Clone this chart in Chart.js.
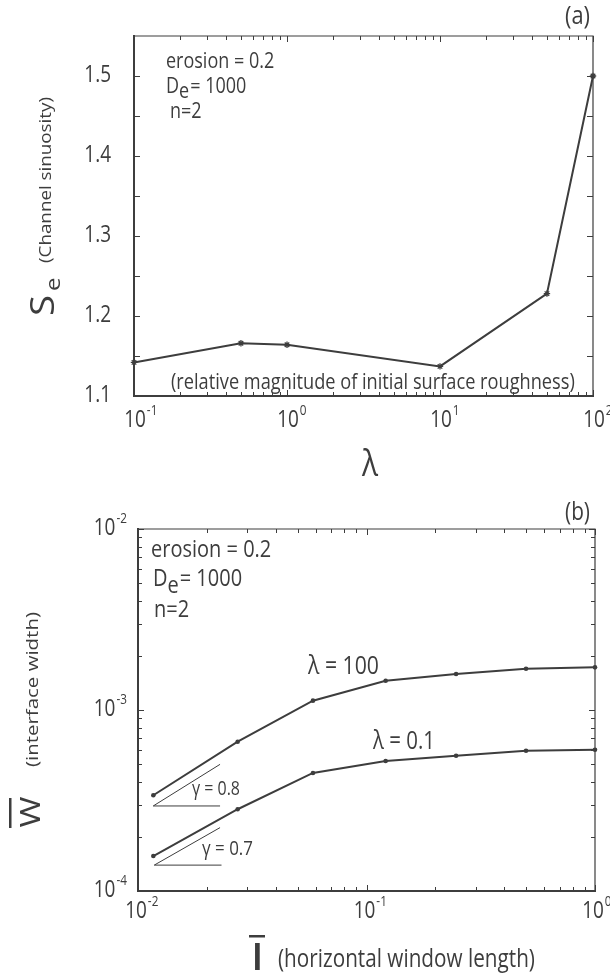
<!DOCTYPE html>
<html><head><meta charset="utf-8">
<script src="https://cdn.jsdelivr.net/npm/chart.js@4.4.1/dist/chart.umd.min.js"></script>
<style>
html,body{margin:0;padding:0;background:#fff;width:610px;height:975px;overflow:hidden;position:relative}
canvas{position:absolute;left:0}
#c1{top:0;width:610px;height:500px}
#c2{top:480px;width:610px;height:495px}
</style></head><body>
<canvas id="c1" width="610" height="500"></canvas>
<canvas id="c2" width="610" height="495"></canvas>
<script>
// ---------- panel (a) data ----------
const lambdaVals = [0.1, 0.5, 1, 10, 50, 100];
const sinuosity = [1.142, 1.166, 1.164, 1.137, 1.228, 1.5];
const topXTicks = [0.1, 1, 10, 100];
const topXTickExp = ['-1', '0', '1', '2'];
const topYTicks = [1.1, 1.2, 1.3, 1.4, 1.5];
const topYTickLabels = ['1.1', '1.2', '1.3', '1.4', '1.5'];

// ---------- panel (b) data ----------
const windowLength = [0.01167, 0.0273, 0.0583, 0.1213, 0.2466, 0.499, 1.0];
const widthLambda100 = [3.38e-4, 6.68e-4, 1.126e-3, 1.45e-3, 1.58e-3, 1.69e-3, 1.72e-3];
const widthLambda01 = [1.56e-4, 2.83e-4, 4.49e-4, 5.23e-4, 5.59e-4, 5.96e-4, 6.03e-4];
const gamma08X = [0.02286, 0.01166, 0.02286];
const gamma08Y = [5.01e-4, 2.95e-4, 2.95e-4];
const gamma07X = [0.02286, 0.01178, 0.0232];
const gamma07Y = [2.24e-4, 1.39e-4, 1.39e-4];
const botXTicks = [0.01, 0.1, 1];
const botXTickExp = ['-2', '-1', '0'];
const botYTicks = [1e-4, 1e-3, 1e-2];
const botYTickExp = ['-4', '-3', '-2'];

const FONT = '"Open Sans", "Noto Sans", sans-serif';
const INK = '#3d3d3d';
const VS = 1.2;

const pts = (xs, ys) => xs.map((x, i) => ({x: x, y: ys[i]}));

function txt(ctx, s, x, y, size, o) {
  o = o || {};
  ctx.save();
  ctx.font = (o.weight || 'normal') + ' ' + size + 'px ' + FONT;
  const w = ctx.measureText(s).width;
  ctx.translate(x, y);
  if (o.rot) { ctx.rotate(o.rot); ctx.scale(VS, 1); } else { ctx.scale(1, VS); }
  ctx.textAlign = o.align || 'left';
  ctx.textBaseline = o.base || 'middle';
  ctx.fillStyle = INK;
  ctx.fillText(s, 0, 0);
  ctx.restore();
  return o.rot ? w * VS : w;
}
function measure(ctx, s, size) {
  ctx.save(); ctx.font = size + 'px ' + FONT; const w = ctx.measureText(s).width; ctx.restore(); return w;
}
function fit(ctx, s, x0, x1, y, o) {
  o = o || {};
  const per = measure(ctx, s, 100) / 100;
  const size = (x1 - x0) / per;
  txt(ctx, s, x0, y, size, o);
  return size;
}
function fitRot(ctx, s, cx, y0, y1) {
  const per = measure(ctx, s, 100) / 100;
  const size = Math.abs(y1 - y0) / VS / per;
  txt(ctx, s, cx, (y0 + y1) / 2, size, {rot: -Math.PI / 2, align: 'center'});
  return size;
}
function pow10(ctx, exp, x, y, size, mode) {
  const w10 = measure(ctx, '10', size);
  const es = size * 0.62;
  const we = measure(ctx, exp, es);
  let x0;
  if (mode === 'center') x0 = x - w10 / 2;
  else x0 = x - w10 - we - 1;
  txt(ctx, '10', x0, y, size);
  txt(ctx, exp, x0 + w10 + 1, y - size * 0.42 * VS, es);
}
function logMinor(min, max) {
  const out = [];
  for (let d = Math.floor(Math.log10(min)); d < Math.ceil(Math.log10(max)); d++) {
    for (let m = 2; m <= 9; m++) {
      const v = m * Math.pow(10, d);
      if (v > min && v < max) out.push(v);
    }
  }
  return out;
}
function frame(ctx, a) {
  ctx.save();
  ctx.strokeStyle = INK; ctx.lineCap = 'square';
  ctx.lineWidth = 1.2;
  ctx.beginPath(); ctx.moveTo(a.left, a.top); ctx.lineTo(a.right, a.top); ctx.lineTo(a.right, a.bottom); ctx.stroke();
  ctx.lineWidth = 2;
  ctx.beginPath(); ctx.moveTo(a.left, a.top); ctx.lineTo(a.left, a.bottom); ctx.lineTo(a.right, a.bottom); ctx.stroke();
  ctx.restore();
}
function ticks(ctx, chart, xv, yv, len) {
  const a = chart.chartArea, xs = chart.scales.x, ys = chart.scales.y;
  ctx.save(); ctx.strokeStyle = INK; ctx.lineWidth = 1;
  ctx.beginPath();
  xv.forEach(v => {
    const p = Math.round(xs.getPixelForValue(v)) + 0.5;
    ctx.moveTo(p, a.bottom); ctx.lineTo(p, a.bottom - len);
    ctx.moveTo(p, a.top); ctx.lineTo(p, a.top + len);
  });
  yv.forEach(v => {
    const p = Math.round(ys.getPixelForValue(v)) + 0.5;
    ctx.moveTo(a.left, p); ctx.lineTo(a.left + len, p);
    ctx.moveTo(a.right, p); ctx.lineTo(a.right - len, p);
  });
  ctx.stroke(); ctx.restore();
}

const baseOpts = {
  responsive: false, animation: false, devicePixelRatio: 1, events: [],
  plugins: {legend: {display: false}, tooltip: {enabled: false}}
};

// ---------- panel (a) ----------
const topPlugin = {
  id: 'topDeco',
  beforeDatasetsDraw(chart) {
    const ctx = chart.ctx, a = chart.chartArea;
    frame(ctx, a);
    ticks(ctx, chart, topXTicks, [1.15, 1.25, 1.35, 1.45].concat(topYTicks), 6);
    ticks(ctx, chart, logMinor(0.1, 100), [], 4);
  },
  afterDraw(chart) {
    const ctx = chart.ctx, xs = chart.scales.x, ys = chart.scales.y;
    topYTicks.forEach((v, i) => txt(ctx, topYTickLabels[i], 111, ys.getPixelForValue(v), 19, {align: 'right'}));
    topXTicks.forEach((v, i) => pow10(ctx, topXTickExp[i], xs.getPixelForValue(v) + 1, 421, 19, 'center'));
    fit(ctx, '(a)', 565, 590, 17);
    const s = 18;
    txt(ctx, 'erosion = 0.2', 166, 62, s);
    let x = 166;
    x += txt(ctx, 'D', x, 87, s);
    x += txt(ctx, 'e', x, 92, s);
    txt(ctx, '= 1000', x + 1, 87, s);
    txt(ctx, 'n=2', 170, 112, s);
    fit(ctx, '(relative magnitude of initial surface roughness)', 171, 575, 383);
    txt(ctx, 'λ', 370, 466, 30, {align: 'center'});
    // y title: S_e and (Channel sinuosity)
    txt(ctx, 'S', 54, 316, 32, {rot: -Math.PI / 2, base: 'alphabetic'});
    txt(ctx, 'e', 60, 291, 20, {rot: -Math.PI / 2, base: 'alphabetic'});
    fitRot(ctx, '(Channel sinuosity)', 47, 263, 97);
  }
};

new Chart(document.getElementById('c1'), {
  type: 'line',
  data: {datasets: [{
    data: pts(lambdaVals, sinuosity),
    borderColor: INK, borderWidth: 2, tension: 0, clip: false,
    pointStyle: 'star', pointRadius: 3.2, pointBorderWidth: 1.3,
    pointBorderColor: INK, pointBackgroundColor: INK
  }]},
  options: Object.assign({}, baseOpts, {
    layout: {padding: {left: 134, right: 17, top: 36, bottom: 104}},
    scales: {
      x: {type: 'logarithmic', min: 0.1, max: 100, display: false},
      y: {type: 'linear', min: 1.1, max: 1.55, display: false}
    }
  }),
  plugins: [topPlugin]
});

// ---------- panel (b) ----------
const O = 480; // canvas offset
const botPlugin = {
  id: 'botDeco',
  beforeDatasetsDraw(chart) {
    const ctx = chart.ctx, a = chart.chartArea;
    frame(ctx, a);
    ticks(ctx, chart, botXTicks, botYTicks, 6);
    ticks(ctx, chart, logMinor(0.01, 1), logMinor(1e-4, 1e-2), 4);
  },
  afterDraw(chart) {
    const ctx = chart.ctx, xs = chart.scales.x, ys = chart.scales.y;
    botYTicks.forEach((v, i) => pow10(ctx, botYTickExp[i], 127, ys.getPixelForValue(v), 19, 'right'));
    botXTicks.forEach((v, i) => pow10(ctx, botXTickExp[i], xs.getPixelForValue(v) - 2, 912 - O, 19, 'center'));
    fit(ctx, '(b)', 565, 590, 513 - O);
    const s = 20;
    txt(ctx, 'erosion = 0.2', 151, 550 - O, s);
    let x = 153;
    x += txt(ctx, 'D', x, 579 - O, s);
    x += txt(ctx, 'e', x, 586 - O, s);
    txt(ctx, '= 1000', x + 1, 579 - O, s);
    txt(ctx, 'n=2', 154, 610 - O, s);
    fit(ctx, 'λ = 100', 308, 379, 667 - O);
    fit(ctx, 'λ = 0.1', 373, 435, 742 - O);
    fit(ctx, 'γ = 0.8', 192, 240, 790 - O);
    fit(ctx, 'γ = 0.7', 202, 253, 849 - O);
    // x title: I with overline
    txt(ctx, 'I', 257.5, 959 - O, 31, {align: 'center', weight: 'bold'});
    ctx.save(); ctx.fillStyle = INK; ctx.fillRect(249, 935 - O, 16, 2.5); ctx.restore();
    fit(ctx, '(horizontal window length)', 278, 535, 960 - O);
    // y title: W with overline
    txt(ctx, 'W', 40, 812 - O, 28, {rot: -Math.PI / 2, align: 'center', base: 'alphabetic'});
    ctx.save(); ctx.fillStyle = INK; ctx.fillRect(9, 798 - O, 2.5, 30); ctx.restore();
    fitRot(ctx, '(interface width)', 33, 767 - O, 612 - O);
  }
};

new Chart(document.getElementById('c2'), {
  type: 'line',
  data: {datasets: [
    {data: pts(windowLength, widthLambda100), borderColor: INK, borderWidth: 2, tension: 0, clip: false,
     pointRadius: 2.3, pointBackgroundColor: INK, pointBorderColor: INK, pointBorderWidth: 0},
    {data: pts(windowLength, widthLambda01), borderColor: INK, borderWidth: 2, tension: 0, clip: false,
     pointRadius: 2.3, pointBackgroundColor: INK, pointBorderColor: INK, pointBorderWidth: 0},
    {data: pts(gamma08X, gamma08Y), borderColor: INK, borderWidth: 1, tension: 0, clip: false, pointRadius: 0},
    {data: pts(gamma07X, gamma07Y), borderColor: INK, borderWidth: 1, tension: 0, clip: false, pointRadius: 0}
  ]},
  options: Object.assign({}, baseOpts, {
    layout: {padding: {left: 138, right: 15, top: 49, bottom: 84}},
    scales: {
      x: {type: 'logarithmic', min: 0.01, max: 1, display: false},
      y: {type: 'logarithmic', min: 1e-4, max: 1e-2, display: false}
    }
  }),
  plugins: [botPlugin]
});
</script>
</body></html>
